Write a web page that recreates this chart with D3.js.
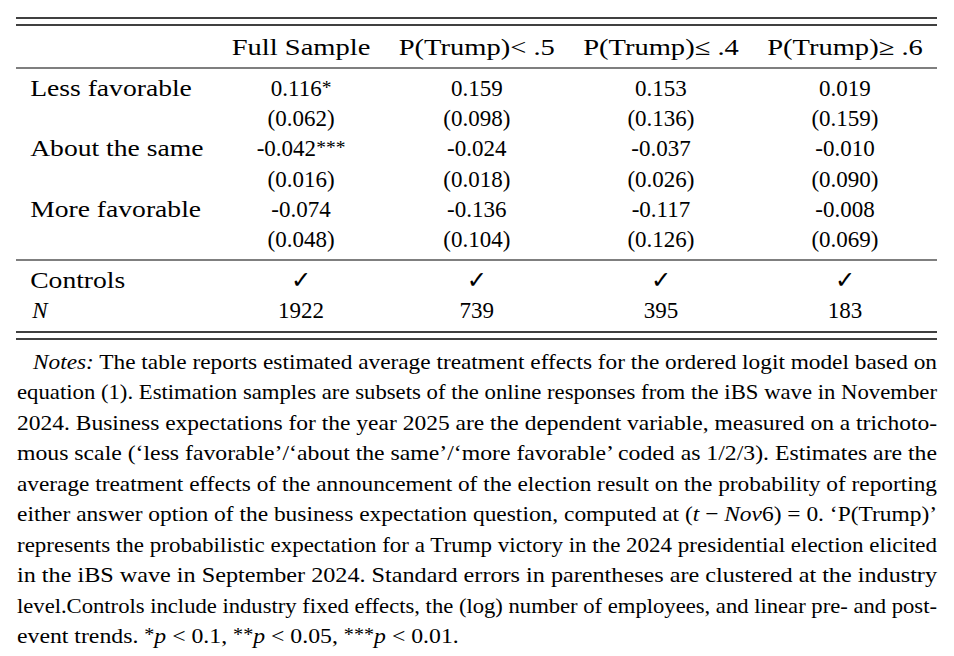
<!DOCTYPE html>
<html>
<head>
<meta charset="utf-8">
<script src="https://cdn.jsdelivr.net/npm/d3@7"></script>
<style>
  html, body { margin: 0; padding: 0; background: #fff; }
  svg { display: block; }
  text { font-family: "Liberation Serif", "Times New Roman", serif; fill: #000; }
</style>
</head>
<body>
<script>
// ---------- data ----------
const columns = ["Full Sample", "P(Trump)< .5", "P(Trump)\u2264 .4", "P(Trump)\u2265 .6"];
const rowLabels = ["Less favorable", "About the same", "More favorable"];
const estimates = [
  [0.116, 0.159, 0.153, 0.019],
  [-0.042, -0.024, -0.037, -0.010],
  [-0.074, -0.136, -0.117, -0.008]
];
const stars = [
  ["*", "", "", ""],
  ["***", "", "", ""],
  ["", "", "", ""]
];
const stdErrors = [
  [0.062, 0.098, 0.136, 0.159],
  [0.016, 0.018, 0.026, 0.090],
  [0.048, 0.104, 0.126, 0.069]
];
const controls = [true, true, true, true];
const nObs = [1922, 739, 395, 183];

// notes: each line is a list of [text, style] runs
const notesLines = [
  [["Notes:", "i"], [" The table reports estimated average treatment effects for the ordered logit model based on", ""]],
  [["equation (1). Estimation samples are subsets of the online responses from the iBS wave in November", ""]],
  [["2024. Business expectations for the year 2025 are the dependent variable, measured on a trichoto-", ""]],
  [["mous scale (\u2018less favorable\u2019/\u2018about the same\u2019/\u2018more favorable\u2019 coded as 1/2/3). Estimates are the", ""]],
  [["average treatment effects of the announcement of the election result on the probability of reporting", ""]],
  [["either answer option of the business expectation question, computed at (", ""], ["t", "i"], [" \u2212 ", ""], ["Nov", "i"], ["6) = 0. \u2018P(Trump)\u2019", ""]],
  [["represents the probabilistic expectation for a Trump victory in the 2024 presidential election elicited", ""]],
  [["in the iBS wave in September 2024. Standard errors in parentheses are clustered at the industry", ""]],
  [["level.Controls include industry fixed effects, the (log) number of employees, and linear pre- and post-", ""]],
  [["event trends. ", ""], ["*", "sup"], ["p", "i"], [" < 0.1, ", ""], ["**", "sup"], ["p", "i"], [" < 0.05, ", ""], ["***", "sup"], ["p", "i"], [" < 0.01.", ""]]
];

// ---------- layout ----------
const W = 954, H = 656;
const fs = 23;          // table font size
const nfs = 21.5;       // notes font size
const k = 1.2;          // horizontal widening for letters (CM-like)
const kh = 1.24;        // widening for column headers
const left = 16, right = 937;

const svg = d3.select("body").append("svg").attr("width", W).attr("height", H);
const g = svg.append("g");

function stretch(sel, factor) {
  sel.each(function () {
    const w = this.getComputedTextLength();
    d3.select(this).attr("textLength", w * factor).attr("lengthAdjust", "spacingAndGlyphs");
  });
  return sel;
}
function measure(str, factor, italic) {
  const t = g.append("text").attr("font-size", fs).attr("font-style", italic ? "italic" : null).text(str);
  const w = t.node().getComputedTextLength() * factor;
  t.remove();
  return w;
}
const fmt = v => d3.format(".3f")(v).replace("\u2212", "-");

// column widths, LaTeX-like with equal separation filling the table width
const labelW = d3.max(rowLabels.concat(["Controls"]).map(s => measure(s, k)));
const colW = columns.map((c, j) => d3.max([
  measure(c, kh),
  ...estimates.map((r, i) => measure(fmt(r[j]) + stars[i][j], 1)),
  ...stdErrors.map(r => measure("(" + fmt(r[j]) + ")", 1))
]));
const pad = (right - left - labelW - d3.sum(colW)) / (2 * (columns.length + 1));
const labelX = left + pad;
let cx = labelX + labelW + 2 * pad;
const centers = [];
colW.forEach(w => { centers.push(cx + w / 2); cx += w + 2 * pad; });
const xCol = d3.scaleOrdinal().domain(columns).range(centers);

// vertical positions
const headerY = 55;
const bodyY = d3.scaleLinear().domain([0, 1]).range([96, 126.2]);
const ctrlY = 288, nY = 318;
const notesY = d3.scaleLinear().domain([0, 1]).range([369, 399.44]);

// ---------- rules ----------
const rules = [
  { y: 18, w: 1.6 }, { y: 25, w: 1.6 },
  { y: 68, w: 1.1 },
  { y: 260, w: 1.1 },
  { y: 332, w: 1.6 }, { y: 339, w: 1.6 }
];
g.selectAll("line.rule").data(rules).join("line")
  .attr("class", "rule")
  .attr("x1", left).attr("x2", right)
  .attr("y1", d => d.y).attr("y2", d => d.y)
  .attr("stroke", "#000").attr("stroke-width", d => d.w);

// ---------- header ----------
stretch(g.selectAll("text.hdr").data(columns).join("text")
  .attr("class", "hdr")
  .attr("x", d => xCol(d)).attr("y", headerY)
  .attr("text-anchor", "middle").attr("font-size", fs)
  .text(d => d), kh);

// ---------- body ----------
rowLabels.forEach((lab, i) => {
  stretch(g.append("text").attr("x", labelX).attr("y", bodyY(2 * i)).attr("font-size", fs).text(lab), k);
  columns.forEach((c, j) => {
    const t = g.append("text").attr("x", xCol(c)).attr("y", bodyY(2 * i))
      .attr("text-anchor", "middle").attr("font-size", fs);
    t.append("tspan").text(fmt(estimates[i][j]));
    if (stars[i][j]) {
      t.append("tspan").attr("font-size", fs * 0.85).attr("dy", -2).text(stars[i][j]);
    }
    g.append("text").attr("x", xCol(c)).attr("y", bodyY(2 * i + 1))
      .attr("text-anchor", "middle").attr("font-size", fs)
      .text("(" + fmt(stdErrors[i][j]) + ")");
  });
});

// controls & N
stretch(g.append("text").attr("x", labelX).attr("y", ctrlY).attr("font-size", fs).text("Controls"), k);
g.append("text").attr("x", labelX + 2).attr("y", nY).attr("font-size", fs).attr("font-style", "italic").text("N");
columns.forEach((c, j) => {
  g.append("text").attr("x", xCol(c)).attr("y", ctrlY).attr("text-anchor", "middle")
    .attr("font-size", fs * 1.05).style("font-family", "'DejaVu Sans', sans-serif")
    .style("font-weight", "bold")
    .text(controls[j] ? "\u2713" : "");
  g.append("text").attr("x", xCol(c)).attr("y", nY).attr("text-anchor", "middle")
    .attr("font-size", fs).text(nObs[j]);
});

// ---------- notes ----------
const notesLeft = left + 1, notesRight = right, indent = 16;
const nodes = [];
notesLines.forEach((runs, i) => {
  const x0 = i === 0 ? notesLeft + indent : notesLeft;
  const t = g.append("text").attr("x", x0).attr("y", notesY(i)).attr("font-size", nfs);
  let sup = false;
  runs.forEach(([str, st]) => {
    const ts = t.append("tspan").text(str);
    if (st === "i") ts.attr("font-style", "italic");
    if (st === "sup") { ts.attr("font-size", nfs * 0.85).attr("dy", sup ? 0 : -2); sup = true; }
    else if (sup) { ts.attr("dy", 2); sup = false; }
  });
  nodes.push({ t, x0, last: i === notesLines.length - 1 });
});
// justify all lines except the last
const ratios = [];
nodes.forEach(n => {
  if (!n.last) {
    const w = n.t.node().getComputedTextLength();
    const target = notesRight - n.x0;
    ratios.push(target / w);
    n.t.attr("textLength", target).attr("lengthAdjust", "spacingAndGlyphs");
  }
});
const lastN = nodes[nodes.length - 1];
lastN.t.attr("textLength", lastN.t.node().getComputedTextLength() * (d3.mean(ratios) + d3.max(ratios)) / 2)
  .attr("lengthAdjust", "spacingAndGlyphs");
</script>
</body>
</html>
